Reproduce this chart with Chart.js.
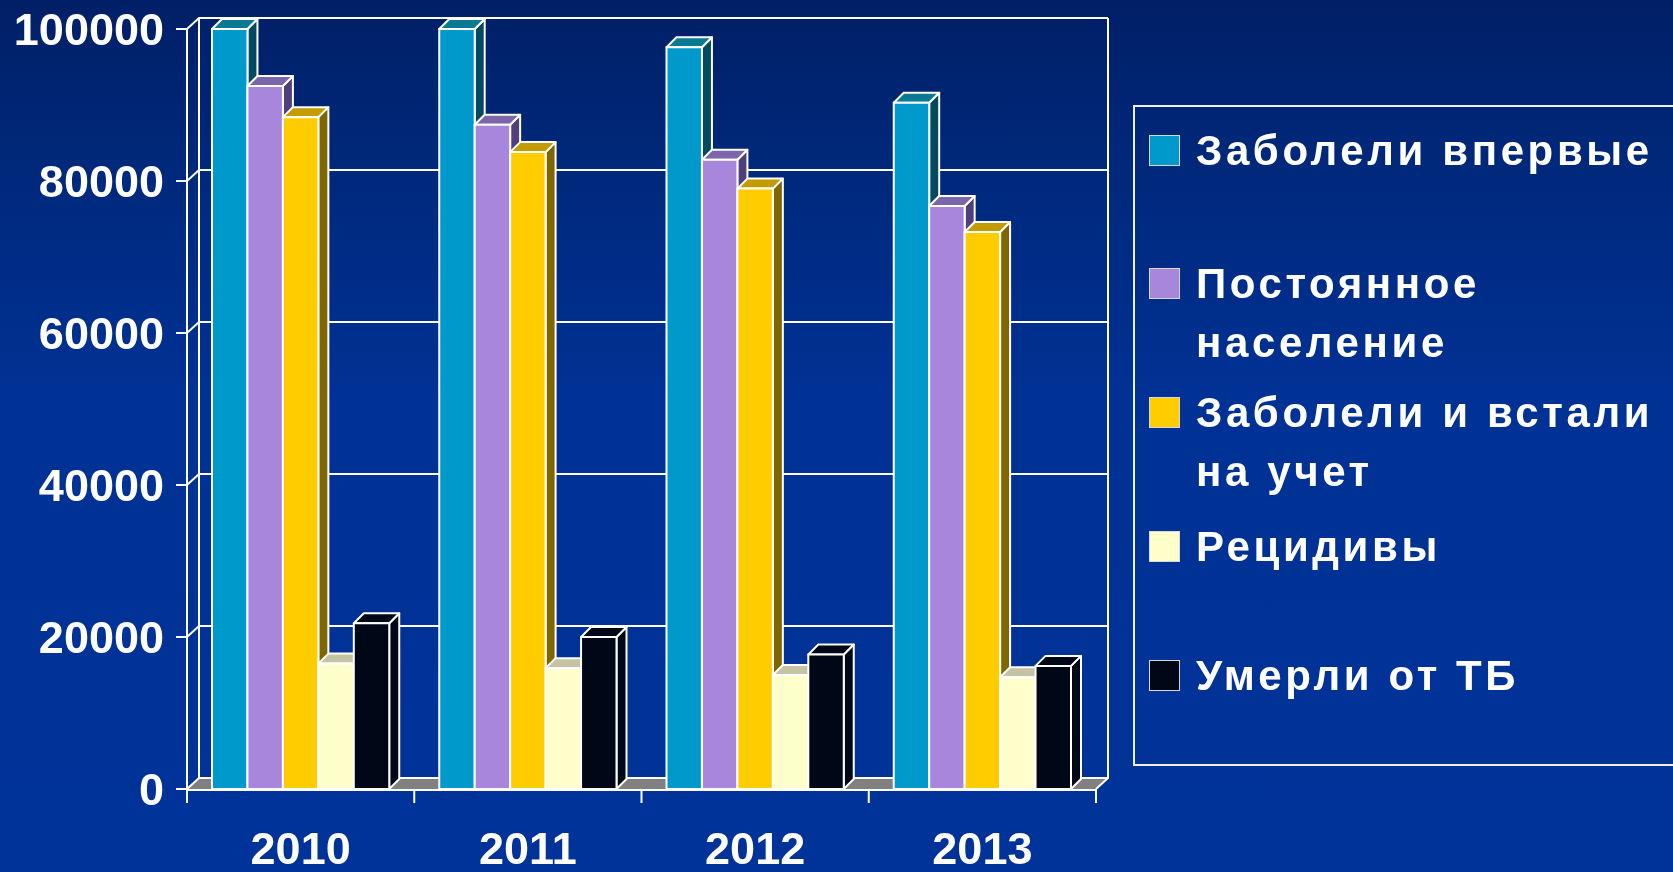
<!DOCTYPE html>
<html>
<head>
<meta charset="utf-8">
<script src="https://cdn.jsdelivr.net/npm/chart.js@4"></script>
<style>
  html, body { margin: 0; padding: 0; }
  body {
    width: 1673px; height: 872px; overflow: hidden; position: relative;
    background: linear-gradient(to bottom, #001f66 0%, #00287a 18%, #003194 45%, #003399 100%);
    font-family: 'Liberation Sans', Arial, sans-serif;
  }
  #chart { position: absolute; left: 0; top: 0; }
  #legend {
    position: absolute; left: 1133px; top: 105px; width: 600px; height: 657px;
    border: 2px solid #eef0f6; border-right: none;
  }
  .item { position: absolute; left: 14px; color: #fff; font-weight: bold;
    font-size: 42px; line-height: 59px; letter-spacing: 3.6px; white-space: pre-line; }
  .item i { position: absolute; left: 0; top: 14px; width: 29px; height: 29px;
    border: 1px solid #d8d8d8; }
  .item span { display: block; margin-left: 47px; }
</style>
</head>
<body>
<canvas id="chart" width="1673" height="872"></canvas>
<div id="legend"></div>
<script>
// data
const years = ['2010', '2011', '2012', '2013'];
const seriesNames = ['Заболели впервые', 'Постоянное\nнаселение', 'Заболели и встали\nна учет', 'Рецидивы', 'Умерли от ТБ'];
const firstCases = [100000, 100000, 97600, 90300];
const population = [92500, 87400, 82800, 76700];
const registered = [88400, 83800, 79000, 73300];
const relapses = [16500, 15900, 15000, 14700];
const deaths = [21800, 20000, 17700, 16200];
const yTicks = [0, 20000, 40000, 60000, 80000, 100000];

// front / top / side colours of the 3d bars
const fronts = ['#0099cc', '#a886dc', '#ffcc00', '#ffffcc', '#000818'];
const tops = ['#0a7a94', '#7b66ab', '#c29c00', '#c4c4a4', '#000818'];
const sides = ['#044a5e', '#4f3f7a', '#806600', '#80806a', '#000818'];
const legendTops = [14, 147, 276, 410, 539];

const DEPTH = 10;   // bar depth
const WALL_X = 12, WALL_Y = 11;

const frame3d = {
  id: 'frame3d',
  beforeDatasetsDraw(chart) {
    const { ctx, chartArea: a, scales: { y } } = chart;
    ctx.save();
    // floor
    ctx.fillStyle = '#808080';
    ctx.beginPath();
    ctx.moveTo(a.left, a.bottom);
    ctx.lineTo(a.right, a.bottom);
    ctx.lineTo(a.right + WALL_X, a.bottom - WALL_Y);
    ctx.lineTo(a.left + WALL_X, a.bottom - WALL_Y);
    ctx.closePath();
    ctx.fill();

    ctx.strokeStyle = '#ffffff';
    ctx.lineWidth = 2;
    ctx.beginPath();
    yTicks.forEach(v => {
      const py = y.getPixelForValue(v);
      ctx.moveTo(a.left - 11, py);
      ctx.lineTo(a.left, py);
      ctx.lineTo(a.left + WALL_X, py - WALL_Y);
      ctx.lineTo(a.right + WALL_X, py - WALL_Y);
    });
    const top = y.getPixelForValue(yTicks[yTicks.length - 1]);
    ctx.moveTo(a.left, top); ctx.lineTo(a.left, a.bottom);
    ctx.moveTo(a.left + WALL_X, top - WALL_Y); ctx.lineTo(a.left + WALL_X, a.bottom - WALL_Y);
    ctx.moveTo(a.right + WALL_X, top - WALL_Y); ctx.lineTo(a.right + WALL_X, a.bottom - WALL_Y);
    ctx.lineTo(a.right, a.bottom);
    ctx.stroke();
    ctx.restore();
  },
  afterDatasetsDraw(chart) {
    const { ctx, chartArea: a } = chart;
    ctx.save();
    ctx.strokeStyle = '#ffffff';
    ctx.lineWidth = 2;
    ctx.lineJoin = 'round';
    for (let j = 0; j < years.length; j++) {
      chart.data.datasets.forEach((ds, i) => {
        const el = chart.getDatasetMeta(i).data[j];
        const { x: cx, y: ty, base, width } = el.getProps(['x', 'y', 'base', 'width'], true);
        const l = cx - width / 2, r = cx + width / 2;
        // side
        ctx.fillStyle = sides[i];
        ctx.beginPath();
        ctx.moveTo(r, ty); ctx.lineTo(r + DEPTH, ty - DEPTH);
        ctx.lineTo(r + DEPTH, base - DEPTH); ctx.lineTo(r, base);
        ctx.closePath(); ctx.fill(); ctx.stroke();
        // top
        ctx.fillStyle = tops[i];
        ctx.beginPath();
        ctx.moveTo(l, ty); ctx.lineTo(l + DEPTH, ty - DEPTH);
        ctx.lineTo(r + DEPTH, ty - DEPTH); ctx.lineTo(r, ty);
        ctx.closePath(); ctx.fill(); ctx.stroke();
        // front
        ctx.fillStyle = fronts[i];
        ctx.fillRect(l, ty, width, base - ty);
        ctx.strokeRect(l, ty, width, base - ty);
      });
    }
    // x axis with ticks between categories
    const step = (a.right - a.left) / years.length;
    ctx.beginPath();
    ctx.moveTo(a.left, a.bottom + 1); ctx.lineTo(a.right, a.bottom + 1);
    for (let k = 0; k <= years.length; k++) {
      ctx.moveTo(a.left + k * step, a.bottom); ctx.lineTo(a.left + k * step, a.bottom + 14);
    }
    ctx.stroke();
    ctx.restore();
  }
};

const series = [firstCases, population, registered, relapses, deaths];

new Chart(document.getElementById('chart'), {
  type: 'bar',
  data: {
    labels: years,
    datasets: series.map((d, i) => ({
      label: seriesNames[i].replace('\n', ' '),
      data: d,
      backgroundColor: fronts[i],
      borderColor: '#ffffff',
      borderWidth: 2
    }))
  },
  options: {
    responsive: false,
    animation: false,
    layout: { padding: { top: 29, right: 577, left: 0, bottom: 0 } },
    datasets: { bar: { categoryPercentage: 0.78, barPercentage: 1.0 } },
    plugins: { legend: { display: false }, tooltip: { enabled: false } },
    scales: {
      x: {
        grid: { display: false, drawTicks: false },
        border: { display: false },
        ticks: { color: '#ffffff', padding: 36, font: { family: 'Liberation Sans', size: 45, weight: 'bold' } },
        afterFit: s => { s.height = 83; s.paddingLeft = 0; s.paddingRight = 0; }
      },
      y: {
        min: 0, max: 100000,
        grid: { display: false, drawTicks: false },
        border: { display: false },
        afterBuildTicks: s => { s.ticks = yTicks.map(v => ({ value: v })); },
        ticks: {
          color: '#ffffff', padding: 23, labelOffset: 4,
          font: { family: 'Liberation Sans', size: 45, weight: 'bold' },
          callback: v => String(v)
        },
        afterFit: s => { s.width = 187; s.paddingTop = 0; s.paddingBottom = 0; }
      }
    }
  },
  plugins: [frame3d]
});

// legend
const legend = document.getElementById('legend');
seriesNames.forEach((name, i) => {
  const div = document.createElement('div');
  div.className = 'item';
  div.style.top = legendTops[i] + 'px';
  const sw = document.createElement('i');
  sw.style.background = fronts[i];
  const txt = document.createElement('span');
  txt.textContent = name;
  div.appendChild(sw);
  div.appendChild(txt);
  legend.appendChild(div);
});
</script>
</body>
</html>
